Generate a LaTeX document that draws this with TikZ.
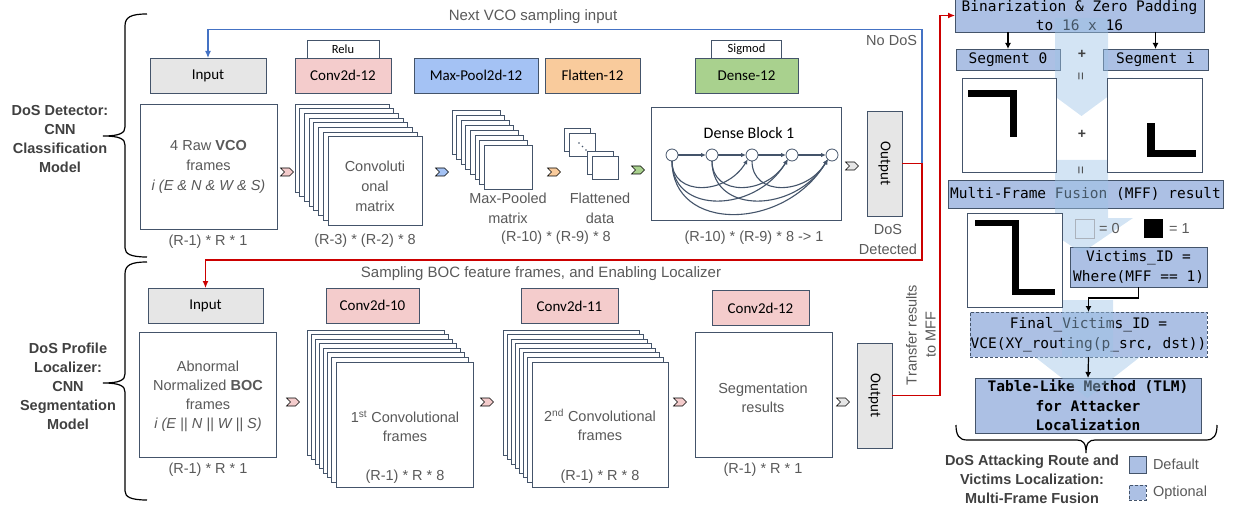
\documentclass[tikz,border=0pt]{standalone}
\usepackage{fontspec}
\setmainfont{Liberation Sans}
\newfontfamily\carl{Carlito}
\newfontfamily\monof{DejaVu Sans Mono}
\usetikzlibrary{arrows.meta,positioning,shapes.symbols}

\definecolor{edgeC}{RGB}{68,84,106}
\definecolor{inGrey}{RGB}{230,230,230}
\definecolor{convPink}{RGB}{244,204,204}
\definecolor{poolBlue}{RGB}{164,194,244}
\definecolor{flatOrange}{RGB}{249,203,156}
\definecolor{denseGreen}{RGB}{169,209,142}
\definecolor{txtGrey}{RGB}{89,89,89}
\definecolor{sideGrey}{RGB}{64,64,64}
\definecolor{mffBlue}{RGB}{172,192,228}
\definecolor{arrowBlue}{RGB}{157,195,230}
\definecolor{loopBlue}{RGB}{68,114,196}
\definecolor{hitRed}{RGB}{204,0,0}

\newcommand{\fsz}[2]{\fontsize{#1}{#2}\selectfont}

\begin{document}
\begin{tikzpicture}[
        x=1pt,
        y=-1pt,
        every node/.style={inner sep=0pt, outer sep=0pt},
        layer/.style={draw=edgeC, line width=0.8pt, minimum height=35pt, font=\carl\fsz{15}{18}},
        actbox/.style={draw=edgeC, fill=white, line width=0.8pt, minimum height=18pt, font=\carl\fsz{12.5}{14}},
        frame/.style={draw=edgeC, fill=white, line width=0.8pt},
        fbox/.style={frame, minimum width=137pt, minimum height=125pt},
        txt/.style={text=txtGrey, font=\fsz{14.5}{20}, align=center},
        dims/.style={text=txtGrey, font=\fsz{14.5}{18}},
        side/.style={text=sideGrey, font=\bfseries\fsz{14.5}{19}, align=center},
        chev/.style={signal, signal from=west, signal to=east, draw=black, line width=0.6pt,
            minimum width=13pt, minimum height=8pt},
        outbox/.style={draw=edgeC, fill=inGrey, line width=0.8pt, minimum width=35pt,
            minimum height=105pt, font=\carl\fsz{15}{18}},
        dnode/.style={circle, draw=edgeC, fill=white, line width=0.8pt, minimum size=12pt},
        dlink/.style={draw=edgeC, line width=1.1pt, -{Latex[length=5pt,width=4.5pt]}},
        brc/.style={line width=1.2pt},
        loopA/.style={draw=loopBlue, line width=1.2pt, -{Latex[length=7pt,width=6pt]}},
        hitA/.style={draw=hitRed, line width=1.2pt, -{Latex[length=7pt,width=6pt]}},
        flow/.style={draw=black, line width=1.2pt, -{Latex[length=6pt,width=6pt]}},
        mffbox/.style={draw=edgeC, fill=mffBlue, line width=0.8pt, font=\monof\fsz{14.5}{19.5}, align=center},
        bigarrow/.style={fill=arrowBlue, fill opacity=0.45},
        bar/.style={fill=black}
    ]
    \useasboundingbox (0,0) rectangle (1233,513);

    % model braces
    \draw[brc] (147,14) .. controls (131,14) and (125,17) .. (125,26) -- (125,127)
        .. controls (125,133) and (120,136) .. (103,136) .. controls (120,136) and (125,139) .. (125,145)
        -- (125,248) .. controls (125,254) and (131,257) .. (147,257);
    \draw[brc] (147,262) .. controls (131,262) and (125,265) .. (125,274) -- (125,374)
        .. controls (125,380) and (120,383) .. (103,383) .. controls (120,383) and (125,386) .. (125,392)
        -- (125,491) .. controls (125,497) and (131,500) .. (147,500);
    \node[side] (detA) at (60,139) {DoS Detector:\\CNN\\Classification\\Model};
    \node[side] (detB) at (68,386) {DoS Profile\\Localizer:\\CNN\\Segmentation\\Model};

    % ---- detector row ----
    \node[layer, fill=inGrey, minimum width=116pt] (inA) at (208,75.5) {Input};
    \node[layer, fill=convPink, minimum width=96pt] (convA) at (343,75.5) {Conv2d-12};
    \node[actbox, minimum width=72pt, above=0pt of convA] (reluA) {Relu};
    \node[layer, fill=poolBlue, minimum width=124pt] (poolA) at (476,75.5) {Max-Pool2d-12};
    \node[layer, fill=flatOrange, minimum width=95pt] (flatA) at (592.5,75.5) {Flatten-12};
    \node[layer, fill=denseGreen, minimum width=103pt] (denseA) at (746.5,75.5) {Dense-12};
    \node[actbox, minimum width=70pt, above=0pt of denseA] (sigA) {Sigmod};

    \node[fbox] (rawA) at (208.5,166.5) {};
    \node[txt] at (rawA) {4 Raw \textbf{VCO}\\frames\\\textit{i (E \& N \& W \& S)}};
    \node[dims] at (208,242) {(R-1) * R * 1};

    \node[chev, fill=convPink] (chA1) at (287,172) {};

    \foreach \k in {0,...,7}
        \draw[frame] (295+\k*4.7,104+\k*4.7) rectangle +(94,88);
    \node[txt] (cmA) at (375,186) {Convoluti\\onal\\matrix};
    \node[dims] at (365,241) {(R-3) * (R-2) * 8};

    \node[chev, fill=poolBlue] (chA2) at (442,172) {};

    \foreach \k in {0,...,7}
        \draw[frame] (452+\k*4.6,110+\k*5.1) rectangle +(48,44);
    \node[txt] (mpA) at (508,208) {Max-Pooled\\matrix};

    \node[chev, fill=flatOrange] (chA3) at (554,172) {};

    \foreach \fx/\fy in {564/128,569/133,587/151,592/156}
        \draw[frame] (\fx,\fy) rectangle +(26,23);
    \foreach \t in {0,1,2}
        \fill[edgeC] (579+\t*3.5,143+\t*3.5) circle (0.8pt);
    \node[txt] (fdA) at (600,208) {Flattened\\data};
    \node[dims] at (556,238) {(R-10) * (R-9) * 8};

    \node[chev, fill=denseGreen] (chA4) at (638,170) {};

    % dense block
    \node[frame, minimum width=190pt, minimum height=113pt] (dbA) at (746,163.5) {};
    \node[font=\carl\fsz{16}{18}] at (749,133) {Dense Block 1};
    \foreach \n in {1,...,5}
        \node[dnode] (d\n) at (632+\n*40,155) {};
    \foreach \n [evaluate=\n as \m using int(\n+1)] in {1,...,4}
        \draw[dlink] (d\n) -- (d\m);
    \foreach \i/\j in {1/3,1/4,1/5,2/4,2/5,3/5} {
        \pgfmathsetmacro\dd{(\j-\i)*18}
        \draw[dlink] (d\i.south) .. controls +(0,\dd) and +(-0.6*\dd,\dd) .. (d\j.south west);
    }
    \node[dims] at (754,238) {(R-10) * (R-9) * 8 -> 1};

    \node[chev, fill=inGrey] (chA5) at (852,166) {};
    \node[outbox] (outA) at (884.5,163.5) {\rotatebox{-90}{Output}};
    \node[txt] (detTxt) at (888,240) {DoS\\Detected};
    \node[txt, anchor=east] (noDos) at (917,41) {No DoS};
    \node[txt, font=\fsz{15}{20}] (nextTxt) at (533,17) {Next VCO sampling input};

    % ---- localizer row ----
    \node[layer, fill=inGrey, minimum width=115pt] (inB) at (205.5,305.5) {Input};
    \node[layer, fill=convPink, minimum width=93pt] (convB1) at (372.5,305.5) {Conv2d-10};
    \node[layer, fill=convPink, minimum width=97pt] (convB2) at (569.5,306) {Conv2d-11};
    \node[layer, fill=convPink, minimum width=97pt] (convB3) at (760.5,308) {Conv2d-12};
    \node[txt, font=\fsz{15}{20}] (sampTxt) at (541,274) {Sampling BOC feature frames, and Enabling Localizer};

    \node[fbox] (rawB) at (208,395) {};
    \node[txt, font=\fsz{14.5}{19}] at (208,396) {Abnormal\\Normalized \textbf{BOC}\\frames\\\textit{i (E || N || W || S)}};
    \node[dims] at (208,470) {(R-1) * R * 1};

    \node[chev, fill=convPink] (chB1) at (293,402) {};
    \foreach \k in {0,...,7}
        \draw[frame] (307+\k*4.14,330+\k*4.57) rectangle +(137,125);
    \node[txt, font=\fsz{14.5}{19}] (c1B) at (405,426) {1\textsuperscript{st} Convolutional\\frames};
    \node[dims] at (405,477) {(R-1) * R * 8};

    \node[chev, fill=convPink] (chB2) at (487,402) {};
    \foreach \k in {0,...,7}
        \draw[frame] (503+\k*4.14,330+\k*4.57) rectangle +(136,125);
    \node[txt, font=\fsz{14.5}{19}] (c2B) at (600,425) {2\textsuperscript{nd} Convolutional\\frames};
    \node[dims] at (600,477) {(R-1) * R * 8};

    \node[chev, fill=convPink] (chB3) at (680,402) {};
    \node[fbox] (segB) at (763.5,394.5) {};
    \node[txt, font=\fsz{14.5}{19}] at (763,398) {Segmentation\\results};
    \node[dims] at (763,470) {(R-1) * R * 1};

    \node[chev, fill=inGrey] (chB4) at (843,402) {};
    \node[outbox] (outB) at (874.5,395.5) {\rotatebox{-90}{Output}};
    \node[txt, font=\fsz{14.5}{19}, rotate=90] (xfer) at (921,335) {Transfer results\\to MFF};

    % ---- multi-frame fusion ----
    \node[mffbox, minimum width=249pt, minimum height=33pt] (binz) at (1079.5,15.5)
        {Binarization \& Zero Padding\\to 16 x 16};
    \node[mffbox, minimum width=104pt, minimum height=21pt] (seg0) at (1008,59.5) {Segment 0};
    \node[mffbox, minimum width=105pt, minimum height=21pt] (segi) at (1155.5,59.5) {Segment i};
    \node[mffbox, minimum width=275pt, minimum height=28pt] (mff) at (1085.5,194)
        {Multi-Frame Fusion (MFF) result};
    \node[mffbox, minimum width=137pt, minimum height=40pt] (vict) at (1138.5,267)
        {Victims\_ID =\\Where(MFF == 1)};
    \node[mffbox, dash pattern=on 3pt off 2pt, minimum width=237pt, minimum height=45pt] (final) at (1088.5,334.5)
        {Final\_Victims\_ID =\\VCE(XY\_routing(p\_src, dst))};
    \node[mffbox, font=\monof\bfseries\fsz{14.5}{19.5}, minimum width=226pt, minimum height=55pt] (tlm) at (1088,405.5)
        {Table-Like Method (TLM)\\for Attacker\\Localization};

    \fill[bigarrow] (1055,18) -- (1108,18) -- (1108,78) -- (1133,78) -- (1081.5,116) -- (1030,78) -- (1055,78) -- cycle;
    \fill[bigarrow] (1055,160) -- (1108,160) -- (1108,218) -- (1133,218) -- (1081.5,253) -- (1030,218) -- (1055,218) -- cycle;
    \fill[bigarrow] (1062,300) -- (1113,300) -- (1113,357) -- (1140,357) -- (1087.5,398) -- (1035,357) -- (1062,357) -- cycle;

    % segment images
    \node[frame, minimum width=94pt, minimum height=94pt] (img0) at (1009,125) {};
    \fill[bar] (968,90) rectangle (1017,97);
    \fill[bar] (1010,90) rectangle (1017,137);
    \node[frame, minimum width=95pt, minimum height=94pt] (imgi) at (1154.5,125) {};
    \fill[bar] (1147,123) rectangle (1155,157);
    \fill[bar] (1147,150) rectangle (1196,157);
    \node[frame, minimum width=95pt, minimum height=94pt] (imgM) at (1014.5,260) {};
    \fill[bar] (975,220) rectangle (1019,226);
    \fill[bar] (1012,220) rectangle (1019,295);
    \fill[bar] (1012,289) rectangle (1055,295);

    \foreach \y/\s in {54/+,134/+}
        \node[text=sideGrey, font=\bfseries\fsz{14}{14}] at (1082,\y) {\s};
    \foreach \y in {76,170}
        \node[text=sideGrey, font=\fsz{14}{14}, rotate=90] at (1082,\y) {=};

    \node[draw=edgeC!45, line width=0.8pt, minimum size=19pt] (zeroSq) at (1084.5,228.5) {};
    \node[txt, right=5pt of zeroSq] {= 0};
    \node[fill=black, minimum size=19pt] (oneSq) at (1153.5,228.5) {};
    \node[txt, right=6pt of oneSq] {= 1};

    \draw[flow] (seg0.north |- binz.south) -- (seg0.north);
    \draw[flow] (segi.north |- binz.south) -- (segi.north);
    \draw[flow] (vict.south) -- ++(0,11) -| (final.north);
    \draw[flow] (final.south) -- (tlm.north);

    \draw[brc] (956,425) .. controls (956,435) and (959,440) .. (967,440) -- (1077,440)
        .. controls (1083,440) and (1086,443) .. (1086,453) .. controls (1086,443) and (1089,440) .. (1095,440)
        -- (1206,440) .. controls (1214,440) and (1217,435) .. (1217,425);
    \node[side] (mffTxt) at (1032,479) {DoS Attacking Route and\\Victims Localization:\\Multi-Frame Fusion};
    \node[mffbox, minimum width=17pt, minimum height=17pt] (lgA) at (1137.5,464.5) {};
    \node[txt, right=7pt of lgA] {Default};
    \node[mffbox, dash pattern=on 3pt off 2pt, minimum width=17pt, minimum height=15pt] (lgB) at (1137.5,492.5) {};
    \node[txt, right=7pt of lgB] {Optional};

    % feedback and hand-over paths
    \draw[loopA] (outA.east) -- ++(20,0) -- ++(0,-134) -| (inA.north);
    \draw[hitA] (outA.east) -- ++(20,0) -- ++(0,96.5) -| (inB.north);
    \draw[hitA] (outB.east) -- ++(48,0) |- (binz.west);
\end{tikzpicture}
\end{document}
